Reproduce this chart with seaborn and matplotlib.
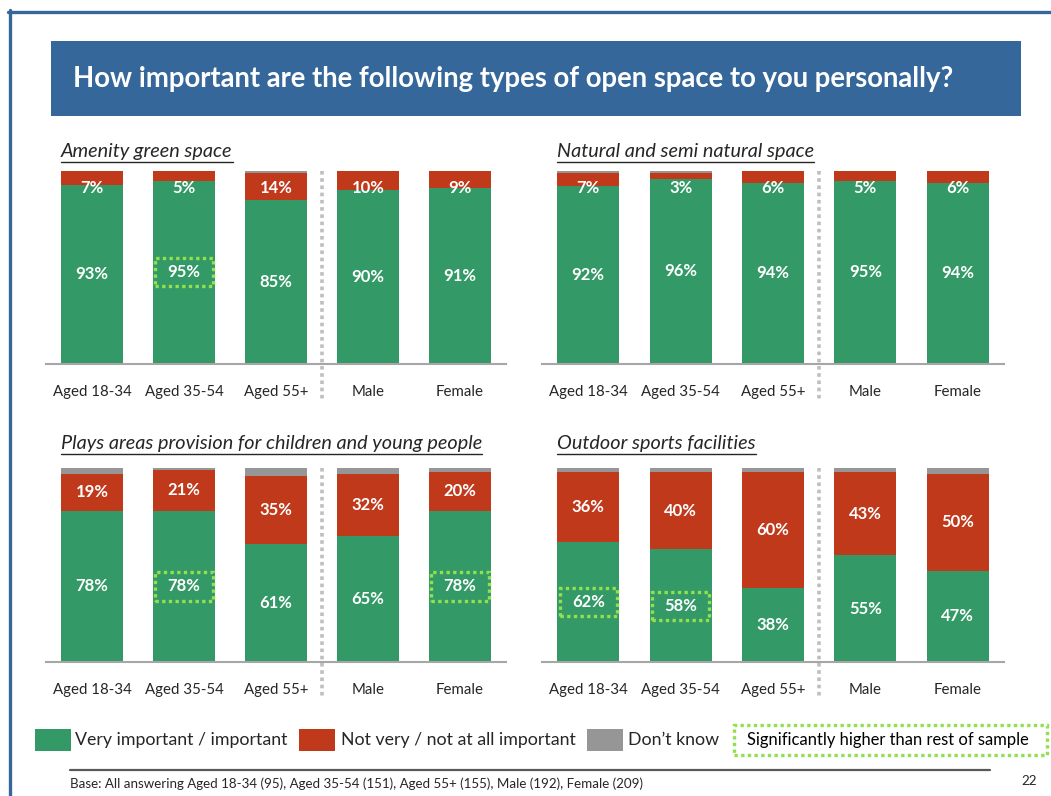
import matplotlib
matplotlib.use("Agg")
import matplotlib.pyplot as plt
from matplotlib.patches import Rectangle
from matplotlib.lines import Line2D
import seaborn as sns
import pandas as pd

# ---- data -------------------------------------------------------------
groups = ["Aged 18-34", "Aged 35-54", "Aged 55+", "Male", "Female"]

panel_titles = [
    "Amenity green space",
    "Natural and semi natural space",
    "Plays areas provision for children and young people",
    "Outdoor sports facilities",
]

amenity_important = [93, 95, 85, 90, 91]
amenity_not = [7, 5, 14, 10, 9]
amenity_dk = [0, 0, 1, 0, 0]

natural_important = [92, 96, 94, 95, 94]
natural_not = [7, 3, 6, 5, 6]
natural_dk = [1, 1, 0, 0, 0]

play_important = [78, 78, 61, 65, 78]
play_not = [19, 21, 35, 32, 20]
play_dk = [3, 1, 4, 3, 2]

sports_important = [62, 58, 38, 55, 47]
sports_not = [36, 40, 60, 43, 50]
sports_dk = [2, 2, 2, 2, 3]

# groups flagged as significantly higher than the rest of the sample
amenity_sig = [False, True, False, False, False]
natural_sig = [False, False, False, False, False]
play_sig = [False, True, False, False, True]
sports_sig = [True, True, False, False, False]

legend_labels = ["Very important / important", "Not very / not at all important", "Don\u2019t know"]
sig_label = "Significantly higher than rest of sample"
base_note = "Base: All answering Aged 18-34 (95), Aged 35-54 (151), Aged 55+ (155), Male (192), Female (209)"
page_number = "22"
title = "How important are the following types of open space to you personally?"

# ---- style ------------------------------------------------------------
sns.set_style("white")
plt.rcParams["font.family"] = ["Lato", "DejaVu Sans"]

GREEN = "#339966"
RED = "#C0391B"
GREY = "#969696"
BLUE = "#35679A"
LIME = "#92E050"
AXIS_GREY = "#A6A6A6"

W, H = 1051, 796
fig = plt.figure(figsize=(W / 100, H / 100), dpi=100)
fig.patch.set_facecolor("white")


def fx(x):
    return x / W


def fy(y):
    return 1 - y / H


# outer frame lines (top and left)
fig.add_artist(Line2D([fx(8), fx(W)], [fy(11.5), fy(11.5)], color=BLUE, lw=2.4,
                      transform=fig.transFigure))
fig.add_artist(Line2D([fx(9.5), fx(9.5)], [fy(10), fy(H)], color=BLUE, lw=2.4,
                      transform=fig.transFigure))

# title banner
fig.add_artist(Rectangle((fx(51), fy(116)), fx(1021 - 51), 75 / H, facecolor=BLUE,
                         edgecolor="none", transform=fig.transFigure))
fig.text(fx(73), fy(79), title, color="white", fontsize=19.8, fontweight="bold",
         va="center", ha="left")

panels = [
    (amenity_important, amenity_not, amenity_dk, amenity_sig, (46, 364, 460, 193), (61, 152)),
    (natural_important, natural_not, natural_dk, natural_sig, (542, 364, 462, 193), (557, 152)),
    (play_important, play_not, play_dk, play_sig, (46, 662, 460, 194), (61, 444)),
    (sports_important, sports_not, sports_dk, sports_sig, (542, 662, 462, 194), (557, 444)),
]

subtitle_texts = []
for (imp, notimp, dk, sig, (x0, yb, w, h), (tx, ty)), ptitle in zip(panels, panel_titles):
    ax = fig.add_axes([fx(x0), fy(yb), fx(w), h / H])
    df = pd.DataFrame({
        "group": groups,
        "important": imp,
        "upto_not": [a + b for a, b in zip(imp, notimp)],
        "total": [a + b + c for a, b, c in zip(imp, notimp, dk)],
    })
    # stacked bars: draw the cumulative totals from back to front
    sns.barplot(data=df, x="group", y="total", order=groups, color=GREY, width=0.67,
                saturation=1, ax=ax, linewidth=0)
    sns.barplot(data=df, x="group", y="upto_not", order=groups, color=RED, width=0.67,
                saturation=1, ax=ax, linewidth=0)
    sns.barplot(data=df, x="group", y="important", order=groups, color=GREEN, width=0.67,
                saturation=1, ax=ax, linewidth=0)

    ax.set_xlim(-0.5, 4.5)
    ax.set_ylim(0, 100)
    ax.set_xlabel("")
    ax.set_ylabel("")
    ax.set_yticks([])
    for side in ("top", "right", "left"):
        ax.spines[side].set_visible(False)
    ax.spines["bottom"].set_color(AXIS_GREY)
    ax.spines["bottom"].set_linewidth(1.5)
    ax.set_xticks(range(len(groups)))
    ax.set_xticklabels(groups, fontsize=10.8, color="#262626")
    ax.tick_params(axis="x", which="major", length=0, pad=15)
    ax.set_xticks([-0.5, 0.5, 1.5, 3.5, 4.5], minor=True)
    ax.tick_params(axis="x", which="minor", length=5, width=1.5, color=AXIS_GREY,
                   direction="out")

    # dotted separator between age groups and gender
    ax.plot([2.5, 2.5], [100, -18], color="#BFBFBF", lw=2.6, ls=(0, (1, 1)),
            clip_on=False, zorder=5)

    for i, (g, r) in enumerate(zip(imp, notimp)):
        ax.text(i, g / 2, f"{g}%", color="white", fontsize=12, fontweight="bold",
                ha="center", va="center", zorder=6)
        ax.text(i, min(g + r / 2, 91), f"{r}%", color="white", fontsize=12,
                fontweight="bold", ha="center", va="center", zorder=6)
        if sig[i]:
            ax.add_patch(Rectangle((i - 0.31, g / 2 - 7.3), 0.62, 14.6, fill=False,
                                   edgecolor=LIME, lw=2.4, ls=(0, (1, 1)), zorder=7))

    t = fig.text(fx(tx), fy(ty), ptitle, fontsize=14.3, style="italic", color="#262626",
                 ha="left", va="center")
    subtitle_texts.append((t, ty))

# ---- legend -------------------------------------------------------------
legend_items = [
    (35, GREEN, legend_labels[0], 75),
    (299, RED, legend_labels[1], 341),
    (587, GREY, legend_labels[2], 628),
]
for sx, col, lab, lx in legend_items:
    fig.add_artist(Rectangle((fx(sx), fy(751)), fx(36), 22 / H, facecolor=col,
                             edgecolor="none", transform=fig.transFigure))
    fig.text(fx(lx), fy(740), lab, fontsize=12.8, color="#262626", ha="left", va="center")

fig.add_artist(Rectangle((fx(734), fy(755)), fx(1047 - 734), 30 / H, fill=False,
                         edgecolor=LIME, lw=2.4, ls=(0, (1, 1)), transform=fig.transFigure))
fig.text(fx(888), fy(740), sig_label, fontsize=11.9, color="black", ha="center", va="center")

# footer
fig.add_artist(Line2D([fx(70), fx(990)], [fy(770), fy(770)], color="#595959", lw=1.6,
                      transform=fig.transFigure))
fig.text(fx(70), fy(784), base_note, fontsize=9.6, color="#262626", ha="left", va="center")
fig.text(fx(1029), fy(781), page_number, fontsize=9.6, color="#262626", ha="center", va="center")

# underline the panel subtitles using their rendered extents
fig.canvas.draw()
renderer = fig.canvas.get_renderer()
for t, ty in subtitle_texts:
    bb = t.get_window_extent(renderer)
    fig.add_artist(Line2D([bb.x0 / W, bb.x1 / W], [fy(ty + 10), fy(ty + 10)],
                          color="#262626", lw=1.0, transform=fig.transFigure))

fig.savefig("out.png", dpi=100, facecolor="white")
